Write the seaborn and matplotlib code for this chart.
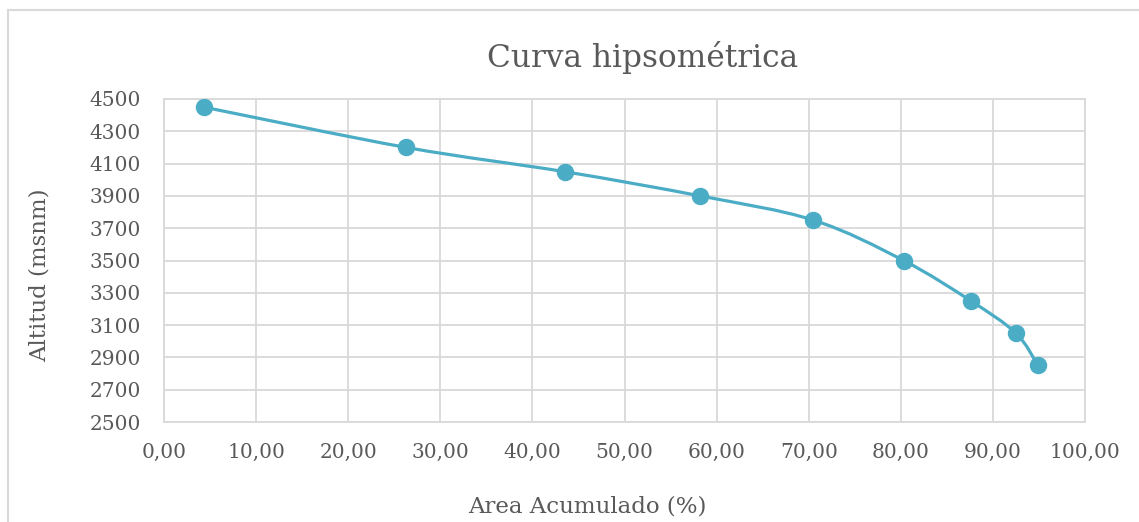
import numpy as np
import seaborn as sns
import matplotlib.pyplot as plt
from matplotlib.path import Path
from matplotlib.patches import PathPatch
from matplotlib.lines import Line2D

# Datos
area_acum = [4.3, 26.3, 43.5, 58.2, 70.5, 80.3, 87.6, 92.5, 94.9]
altitud = [4450, 4200, 4050, 3900, 3750, 3500, 3250, 3050, 2850]
xticks = list(range(0, 101, 10))
yticks = list(range(2500, 4501, 200))

color_linea = '#4BACC6'
color_texto = '#595959'
color_grid = '#D9D9D9'

sns.set_style('white')
plt.rcParams['font.family'] = ['DejaVu Serif']

fig = plt.figure(figsize=(11.39, 5.22), dpi=100)
ax = fig.add_axes([164 / 1139, 1 - 422 / 522, (1085 - 164) / 1139, (422 - 99) / 522])


def suavizar(xs, ys):
    # curva suavizada tipo Excel (Bezier con puntos de control Catmull-Rom)
    pts = np.column_stack([xs, ys]).astype(float)
    verts = [pts[0]]
    codes = [Path.MOVETO]
    n = len(pts)
    for i in range(n - 1):
        p0 = pts[i - 1] if i > 0 else pts[i]
        p1 = pts[i]
        p2 = pts[i + 1]
        p3 = pts[i + 2] if i + 2 < n else pts[i + 1]
        c1 = p1 + (p2 - p0) / 6
        c2 = p2 - (p3 - p1) / 6
        verts += [c1, c2, p2]
        codes += [Path.CURVE4] * 3
    return Path(verts, codes)


ax.add_patch(PathPatch(suavizar(area_acum, altitud), fill=False,
                       edgecolor=color_linea, lw=2.3, zorder=3))
sns.scatterplot(x=area_acum, y=altitud, ax=ax, color=color_linea, s=135,
                edgecolor=color_linea, zorder=4, legend=False)

ax.set_xlim(0, 100)
ax.set_ylim(2500, 4500)
ax.set_xticks(xticks)
ax.set_xticklabels([f'{v:.2f}'.replace('.', ',') for v in xticks])
ax.set_yticks(yticks)
ax.grid(True, color=color_grid, lw=1.3)
ax.set_axisbelow(True)
for s in ax.spines.values():
    s.set_color(color_grid)
    s.set_linewidth(1.3)
ax.tick_params(length=0, labelsize=14.5, labelcolor=color_texto)
ax.tick_params(axis='x', pad=15)
ax.tick_params(axis='y', pad=16.5)

fig.text(643 / 1139, 1 - 58 / 522, 'Curva hipsométrica', ha='center', va='center',
         fontsize=22.5, color=color_texto)
fig.text(587 / 1139, 1 - 506 / 522, 'Area Acumulado (%)', ha='center', va='center',
         fontsize=16.5, color=color_texto)
fig.text(40 / 1139, 1 - 275 / 522, 'Altitud (msnm)', ha='center', va='center',
         rotation=90, fontsize=16.5, color=color_texto)

# borde del area del grafico
fig.add_artist(Line2D([8 / 1139, 8 / 1139], [0, 1 - 10 / 522], color=color_grid, lw=1.5))
fig.add_artist(Line2D([8 / 1139, 1], [1 - 10 / 522, 1 - 10 / 522], color=color_grid, lw=1.5))

fig.savefig('out.png', dpi=100)
